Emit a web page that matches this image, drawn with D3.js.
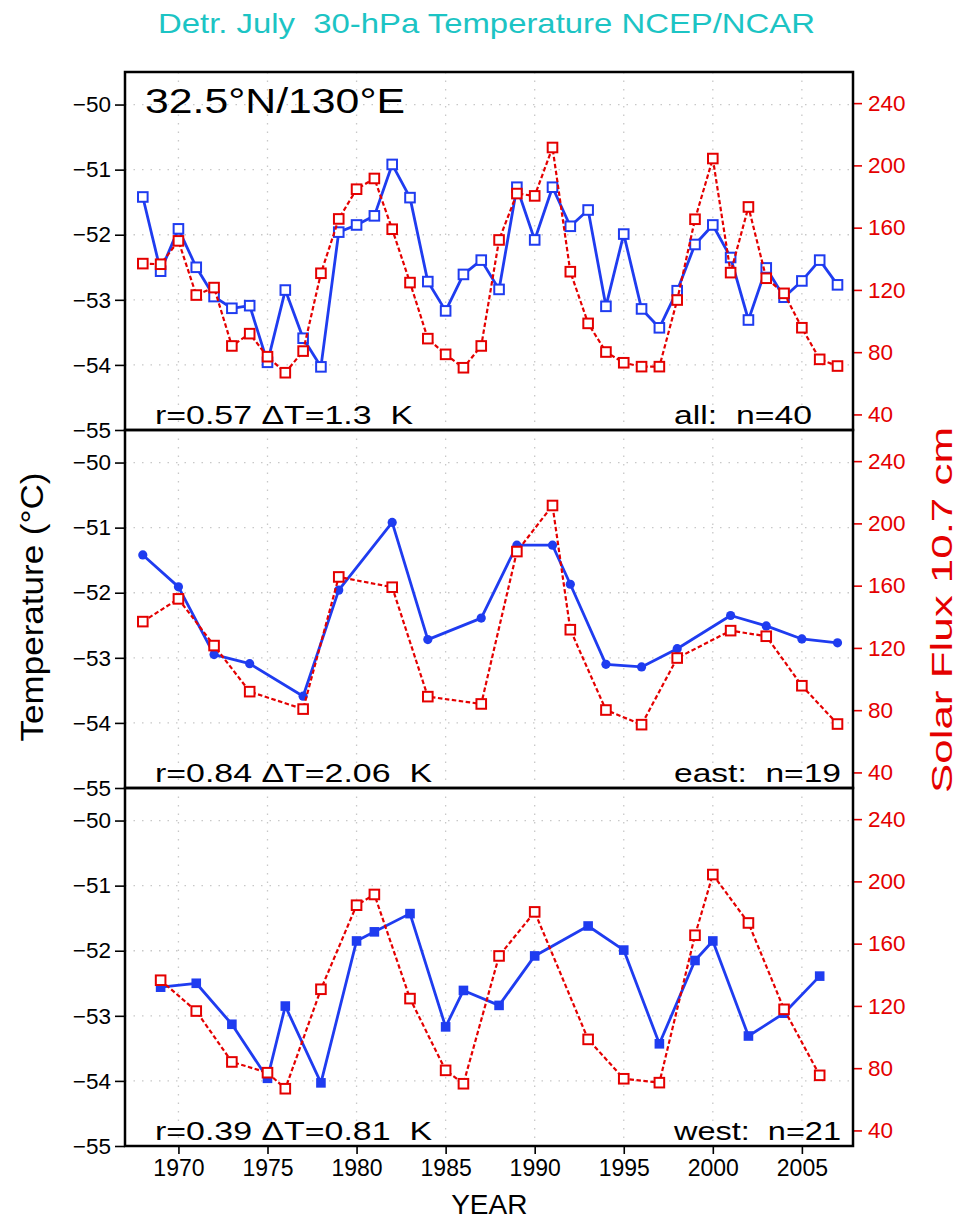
<!DOCTYPE html>
<html><head><meta charset="utf-8">
<script src="https://cdn.jsdelivr.net/npm/d3@7"></script>
<style>
body{margin:0;background:#fff}
svg{display:block}
text{font-family:"Liberation Sans",Arial,Helvetica,sans-serif}
</style>
</head><body>
<svg id="chart" width="959" height="1220"></svg>
<script>
// ---- data ----
const years = [1968,1969,1970,1971,1972,1973,1974,1975,1976,1977,1978,1979,1980,1981,1982,1983,1984,1985,1986,1987,
               1988,1989,1990,1991,1992,1993,1994,1995,1996,1997,1998,1999,2000,2001,2002,2003,2004,2005,2006,2007];
const temperature = [-51.42,-52.56,-51.91,-52.50,-52.95,-53.13,-53.09,-53.96,-52.85,-53.59,
                     -54.03,-51.96,-51.85,-51.71,-50.92,-51.43,-52.72,-53.17,-52.61,-52.39,
                     -52.84,-51.27,-52.08,-51.27,-51.87,-51.62,-53.10,-51.99,-53.14,-53.43,
                     -52.86,-52.15,-51.85,-52.35,-53.31,-52.51,-52.96,-52.71,-52.39,-52.77];
const solarFlux = [136.9,136.5,151.5,116.7,121.5,84.0,91.9,77.1,66.8,80.7,
                   130.7,165.6,184.7,191.6,159.0,124.7,88.7,78.6,70.0,84.0,
                   152.1,181.9,180.4,211.5,131.7,98.5,80.1,73.2,70.7,70.7,
                   113.5,165.4,204.4,131.1,173.3,127.5,117.8,95.7,75.4,71.1];
const eastYears = [1968,1970,1972,1974,1977,1979,1982,1984,1987,1989,1991,1992,1994,1996,1998,2001,2003,2005,2007];
const westYears = [1969,1971,1973,1975,1976,1978,1980,1981,1983,1985,1986,1988,1990,1993,1995,1997,1999,2000,2002,2004,2006];
const tempTicks = [-50,-51,-52,-53,-54,-55];
const tempGrid = [-50,-51,-52,-53,-54];
const fluxTicks = [40,80,120,160,200,240];
const yearTicks = [1970,1975,1980,1985,1990,1995,2000,2005];
const panelSubsets = [years, eastYears, westYears];
const panelMarkers = ["openSquare","dot","filledSquare"];
const panelStats = ["r=0.57 ΔT=1.3  K","r=0.84 ΔT=2.06  K","r=0.39 ΔT=0.81  K"];
const panelGroups = ["all:  n=40","east:  n=19","west:  n=21"];

const titleText = "Detr. July  30-hPa Temperature NCEP/NCAR";
const locationText = "32.5°N/130°E";

// ---- layout ----
const BLUE = "#1f3cf0", RED = "#e40000", CYAN = "#1cc4c4";
const left = 125, right = 853, panelTop = 72, panelH = 358;
const svg = d3.select("#chart");

const x = d3.scaleLinear().domain([1967, 2007.87]).range([left, right]);

svg.append("text").attr("x", 158).attr("y", 33)
  .attr("font-size", 28).attr("fill", CYAN)
  .attr("textLength", 657).attr("lengthAdjust", "spacingAndGlyphs")
  .style("white-space", "pre").text(titleText);

panelSubsets.forEach((subset, p) => {
  const top = panelTop + p * panelH, bottom = top + panelH;
  const yT = d3.scaleLinear().domain([-55, -49.5]).range([bottom, top]);
  const yF = d3.scaleLinear().domain([30, 260]).range([bottom, top]);
  const g = svg.append("g");
  const data = subset.map(yr => {
    const i = years.indexOf(yr);
    return {year: yr, t: temperature[i], f: solarFlux[i]};
  });

  // grid
  g.selectAll(".hg").data(tempGrid).join("line")
    .attr("x1", left).attr("x2", right)
    .attr("y1", d => yT(d)).attr("y2", d => yT(d))
    .attr("stroke", "#c8c8c8").attr("stroke-width", 1.3).attr("stroke-dasharray", "1.5,7");
  g.selectAll(".vg").data(yearTicks).join("line")
    .attr("x1", d => x(d)).attr("x2", d => x(d))
    .attr("y1", top).attr("y2", bottom)
    .attr("stroke", "#c8c8c8").attr("stroke-width", 1.3).attr("stroke-dasharray", "1.5,7");

  // left axis
  const la = g.append("g").attr("transform", `translate(${left},0)`)
    .call(d3.axisLeft(yT).tickValues(tempTicks).tickSize(10).tickPadding(4).tickFormat(d3.format("d")));
  la.select(".domain").remove();
  la.selectAll("line").attr("stroke", "#000").attr("stroke-width", 1.6);
  la.selectAll("text").attr("font-size", 22.5).attr("fill", "#000")
    .style("font-family", '"Liberation Sans",Arial,sans-serif');

  // right axis
  const ra = g.append("g").attr("transform", `translate(${right},0)`)
    .call(d3.axisRight(yF).tickValues(fluxTicks).tickSize(9).tickPadding(6));
  ra.select(".domain").remove();
  ra.selectAll("line").attr("stroke", RED).attr("stroke-width", 1.6);
  ra.selectAll("text").attr("font-size", 22.5).attr("fill", RED)
    .style("font-family", '"Liberation Sans",Arial,sans-serif');

  // temperature line
  g.append("path").datum(data)
    .attr("d", d3.line().x(d => x(d.year)).y(d => yT(d.t)))
    .attr("fill", "none").attr("stroke", BLUE).attr("stroke-width", 2.8).attr("stroke-linejoin", "round");
  const mk = panelMarkers[p];
  if (mk === "dot") {
    g.selectAll(".tm").data(data).join("circle")
      .attr("cx", d => x(d.year)).attr("cy", d => yT(d.t)).attr("r", 4.6).attr("fill", BLUE);
  } else if (mk === "filledSquare") {
    g.selectAll(".tm").data(data).join("rect")
      .attr("x", d => x(d.year) - 4.8).attr("y", d => yT(d.t) - 4.8)
      .attr("width", 9.6).attr("height", 9.6).attr("fill", BLUE);
  } else {
    g.selectAll(".tm").data(data).join("rect")
      .attr("x", d => x(d.year) - 4.8).attr("y", d => yT(d.t) - 4.8)
      .attr("width", 9.6).attr("height", 9.6).attr("fill", "#fff")
      .attr("stroke", BLUE).attr("stroke-width", 2);
  }

  // solar flux line
  g.append("path").datum(data)
    .attr("d", d3.line().x(d => x(d.year)).y(d => yF(d.f)))
    .attr("fill", "none").attr("stroke", RED).attr("stroke-width", 2.2)
    .attr("stroke-dasharray", "4.5,2.5");
  g.selectAll(".fm").data(data).join("rect")
    .attr("x", d => x(d.year) - 4.8).attr("y", d => yF(d.f) - 4.8)
    .attr("width", 9.6).attr("height", 9.6).attr("fill", "#fff")
    .attr("stroke", RED).attr("stroke-width", 2);

  // frame
  g.append("rect").attr("x", left).attr("y", top).attr("width", right - left).attr("height", panelH)
    .attr("fill", "none").attr("stroke", "#000").attr("stroke-width", 2.5);

  // annotations
  g.append("text").attr("x", 155).attr("y", top + 351.5).attr("font-size", 25)
    .attr("textLength", p === 0 ? 258 : 277).attr("lengthAdjust", "spacingAndGlyphs")
    .style("white-space", "pre").text(panelStats[p]);
  g.append("text").attr("x", 674).attr("y", top + 351.5).attr("font-size", 25)
    .attr("textLength", p === 0 ? 138 : 167).attr("lengthAdjust", "spacingAndGlyphs")
    .style("white-space", "pre").text(panelGroups[p]);

  if (p === 0) {
    g.append("text").attr("x", 145).attr("y", top + 41).attr("font-size", 35)
      .attr("textLength", 260).attr("lengthAdjust", "spacingAndGlyphs").text(locationText);
  }

  if (p === panelSubsets.length - 1) {
    const ba = g.append("g").attr("transform", `translate(0,${bottom})`)
      .call(d3.axisBottom(x).tickValues(yearTicks).tickSize(8).tickPadding(6).tickFormat(d3.format("d")));
    ba.select(".domain").remove();
    ba.selectAll("line").attr("stroke", "#000").attr("stroke-width", 1.6);
    ba.selectAll("text").attr("font-size", 23).attr("fill", "#000")
      .style("font-family", '"Liberation Sans",Arial,sans-serif');
  }
});

// axis titles
svg.append("text").attr("transform", "translate(43,607) rotate(-90)")
  .attr("text-anchor", "middle").attr("font-size", 31)
  .attr("textLength", 269).attr("lengthAdjust", "spacingAndGlyphs").text("Temperature (°C)");
svg.append("text").attr("transform", "translate(952,610) rotate(-90)")
  .attr("text-anchor", "middle").attr("font-size", 29).attr("fill", RED)
  .attr("textLength", 366).attr("lengthAdjust", "spacingAndGlyphs").text("Solar Flux 10.7 cm");
svg.append("text").attr("x", x(1987.45)).attr("y", 1214).attr("text-anchor", "middle")
  .attr("font-size", 28).text("YEAR");
</script>
</body></html>
